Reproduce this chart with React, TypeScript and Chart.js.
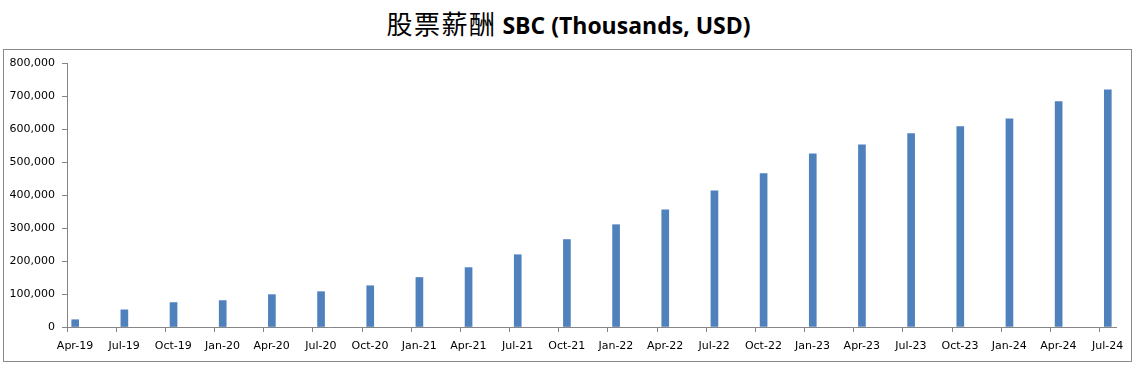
import React, { useEffect, useRef } from "react";
import { Chart, registerables } from "chart.js";

Chart.register(...registerables);

const TITLE_CN = "股票薪酬";
const TITLE_EN = "SBC (Thousands, USD)";

// Quarter labels (x axis is a monthly date axis, labelled every 3 months)
const categories = [
  "Apr-19", "Jul-19", "Oct-19", "Jan-20", "Apr-20", "Jul-20", "Oct-20",
  "Jan-21", "Apr-21", "Jul-21", "Oct-21", "Jan-22", "Apr-22", "Jul-22",
  "Oct-22", "Jan-23", "Apr-23", "Jul-23", "Oct-23", "Jan-24", "Apr-24", "Jul-24",
];

// Stock-based compensation, thousands USD
const sbcValues = [
  22000, 52000, 74000, 80000, 98000, 107000, 125000,
  150000, 180000, 219000, 265000, 310000, 355000, 413000,
  465000, 525000, 552000, 586000, 607000, 631000, 683000, 719000,
];

const yTicks = [0, 100000, 200000, 300000, 400000, 500000, 600000, 700000, 800000];

const MONTHS_PER_QUARTER = 3;
const TOTAL_MONTHS = (categories.length - 1) * MONTHS_PER_QUARTER + 1;

const AXIS_GRAY = "#868686";
const BAR_BLUE = "#4F81BD";

export default function App() {
  const canvasRef = useRef<HTMLCanvasElement | null>(null);

  useEffect(() => {
    if (!canvasRef.current) return;
    const points = sbcValues.map((v, i) => ({ x: i * MONTHS_PER_QUARTER, y: v }));
    const chart = new Chart(canvasRef.current, {
      type: "bar",
      data: {
        datasets: [
          {
            label: TITLE_EN,
            data: points as any,
            backgroundColor: BAR_BLUE,
            borderWidth: 0,
            barThickness: 7,
          },
        ],
      },
      options: {
        animation: false,
        responsive: false,
        maintainAspectRatio: false,
        layout: { padding: { left: 0, right: 21, top: 63, bottom: 0 } },
        plugins: {
          legend: { display: false },
          title: { display: false },
          tooltip: { enabled: false },
        },
        font: { family: "'DejaVu Sans', sans-serif", size: 11 },
        scales: {
          x: {
            type: "linear",
            offset: false,
            min: -0.5,
            max: TOTAL_MONTHS - 0.5,
            afterBuildTicks: (scale: any) => {
              scale.ticks = categories.map((_, i) => ({ value: i * MONTHS_PER_QUARTER - 0.5 }));
            },
            afterFit: (scale: any) => {
              scale.height = 38;
            },
            ticks: {
              autoSkip: false,
              maxRotation: 0,
              minRotation: 0,
              labelOffset: 8,
              padding: 8,
              color: "#000",
              font: { family: "'DejaVu Sans', sans-serif", size: 11 },
              callback: (_v: any, index: number) => categories[index],
            },
            grid: {
              offset: false,
              drawOnChartArea: false,
              drawTicks: true,
              tickLength: 5,
              color: AXIS_GRAY,
              lineWidth: 1,
            },
            border: { display: true, color: AXIS_GRAY, width: 1 },
          },
          y: {
            min: 0,
            max: 800000,
            afterBuildTicks: (scale: any) => {
              scale.ticks = yTicks.map((v) => ({ value: v }));
            },
            afterFit: (scale: any) => {
              scale.width = 67;
            },
            ticks: {
              padding: 7,
              color: "#000",
              font: { family: "'DejaVu Sans', sans-serif", size: 11 },
              callback: (v: any) => Number(v).toLocaleString("en-US"),
            },
            grid: {
              drawOnChartArea: false,
              drawTicks: true,
              tickLength: 5,
              color: AXIS_GRAY,
              lineWidth: 1,
            },
            border: { display: true, color: AXIS_GRAY, width: 1 },
          },
        },
      },
    });
    return () => chart.destroy();
  }, []);

  return (
    <>
      <div
        style={{
          position: "absolute",
          left: 3,
          top: 49,
          width: 1127,
          height: 311,
          border: "1px solid #8a8a8a",
          boxSizing: "content-box",
        }}
      />
      <div
        style={{
          position: "absolute",
          left: 0,
          top: 5,
          width: 1137,
          textAlign: "center",
          whiteSpace: "nowrap",
          lineHeight: "36px",
          color: "#000",
        }}
      >
        <span
          style={{
            fontFamily: "'Noto Sans CJK SC', sans-serif",
            fontSize: 26,
            fontWeight: 400,
            letterSpacing: 1.5,
          }}
        >
          {TITLE_CN}
        </span>
        <span style={{ fontFamily: "'Open Sans', sans-serif", fontSize: 23, fontWeight: 700 }}>
          {" " + TITLE_EN}
        </span>
      </div>
      <canvas
        ref={canvasRef}
        width={1137}
        height={365}
        style={{ position: "absolute", left: 0, top: 0, width: 1137, height: 365 }}
      />
    </>
  );
}
